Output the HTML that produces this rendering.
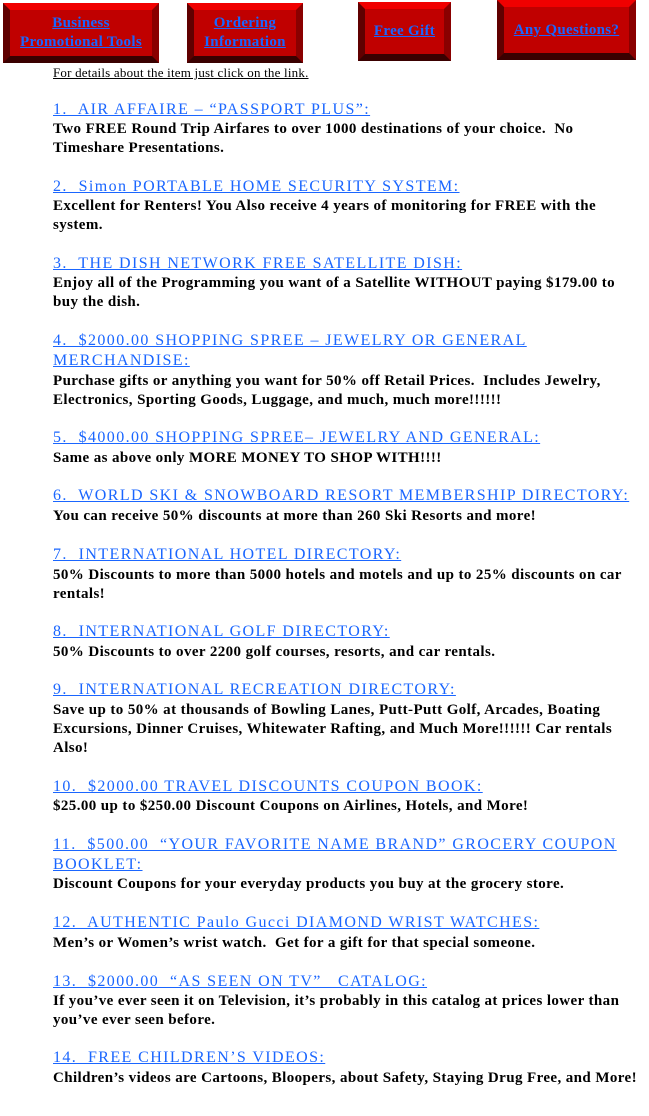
<!DOCTYPE html>
<html><head><meta charset="utf-8"><style>
body{margin:0;background:#fff;width:649px;height:1116px;position:relative;overflow:hidden;font-family:"Liberation Serif",serif}
.b{position:absolute;background:#c00000;border-style:solid;border-width:7px;border-color:#f00000 #8a0000 #3a0000 #600000;box-sizing:border-box;display:flex;align-items:center;justify-content:center;text-align:center}
.b a{color:#1a66ff;font-size:15px;font-weight:bold;text-decoration:underline;line-height:19px;letter-spacing:0.3px}
.l{position:absolute;left:53px;white-space:nowrap;line-height:18px}
.h{color:#1a66ff;font-size:16px;text-decoration:underline;letter-spacing:1.4px}
.t{color:#000;font-size:15px;font-weight:bold;letter-spacing:0.4px}
</style></head><body>
<div class="b" style="left:3px;top:3px;width:156px;height:60px"><a>Business<br>Promotional Tools</a></div>
<div class="b" style="left:187px;top:3px;width:116px;height:60px"><a>Ordering<br>Information</a></div>
<div class="b" style="left:358px;top:2px;width:93px;height:59px"><a>Free Gift</a></div>
<div class="b" style="left:497px;top:0px;width:139px;height:60px"><a>Any Questions?</a></div>
<div class="l" style="top:64px;font-size:13px;letter-spacing:0.2px;text-decoration:underline">For details about the item just click on the link.</div>

<div class="l h" style="top:101px">1.&nbsp; AIR AFFAIRE – “PASSPORT PLUS”:</div>
<div class="l t" style="top:120px">Two FREE Round Trip Airfares to over 1000 destinations of your choice.&nbsp; No</div>
<div class="l t" style="top:139px">Timeshare Presentations.</div>

<div class="l h" style="top:178px">2.&nbsp; Simon PORTABLE HOME SECURITY SYSTEM:</div>
<div class="l t" style="top:197px">Excellent for Renters! You Also receive 4 years of monitoring for FREE with the</div>
<div class="l t" style="top:216px">system.</div>

<div class="l h" style="top:255px">3.&nbsp; THE DISH NETWORK FREE SATELLITE DISH:</div>
<div class="l t" style="top:274px">Enjoy all of the Programming you want of a Satellite WITHOUT paying $179.00 to</div>
<div class="l t" style="top:293px">buy the dish.</div>

<div class="l h" style="top:332px">4.&nbsp; $2000.00 SHOPPING SPREE – JEWELRY OR GENERAL</div>
<div class="l h" style="top:352px">MERCHANDISE:</div>
<div class="l t" style="top:372px">Purchase gifts or anything you want for 50% off Retail Prices.&nbsp; Includes Jewelry,</div>
<div class="l t" style="top:391px">Electronics, Sporting Goods, Luggage, and much, much more!!!!!!</div>

<div class="l h" style="top:429px">5.&nbsp; $4000.00 SHOPPING SPREE– JEWELRY AND GENERAL:</div>
<div class="l t" style="top:449px">Same as above only MORE MONEY TO SHOP WITH!!!!</div>

<div class="l h" style="top:487px">6.&nbsp; WORLD SKI &amp; SNOWBOARD RESORT MEMBERSHIP DIRECTORY:</div>
<div class="l t" style="top:507px">You can receive 50% discounts at more than 260 Ski Resorts and more!</div>

<div class="l h" style="top:546px">7.&nbsp; INTERNATIONAL HOTEL DIRECTORY:</div>
<div class="l t" style="top:566px">50% Discounts to more than 5000 hotels and motels and up to 25% discounts on car</div>
<div class="l t" style="top:585px">rentals!</div>

<div class="l h" style="top:623px">8.&nbsp; INTERNATIONAL GOLF DIRECTORY:</div>
<div class="l t" style="top:643px">50% Discounts to over 2200 golf courses, resorts, and car rentals.</div>

<div class="l h" style="top:681px">9.&nbsp; INTERNATIONAL RECREATION DIRECTORY:</div>
<div class="l t" style="top:701px">Save up to 50% at thousands of Bowling Lanes, Putt-Putt Golf, Arcades, Boating</div>
<div class="l t" style="top:720px">Excursions, Dinner Cruises, Whitewater Rafting, and Much More!!!!!! Car rentals</div>
<div class="l t" style="top:739px">Also!</div>

<div class="l h" style="top:778px">10.&nbsp; $2000.00 TRAVEL DISCOUNTS COUPON BOOK:</div>
<div class="l t" style="top:797px">$25.00 up to $250.00 Discount Coupons on Airlines, Hotels, and More!</div>

<div class="l h" style="top:836px">11.&nbsp; $500.00&nbsp; “YOUR FAVORITE NAME BRAND” GROCERY COUPON</div>
<div class="l h" style="top:856px">BOOKLET:</div>
<div class="l t" style="top:875px">Discount Coupons for your everyday products you buy at the grocery store.</div>

<div class="l h" style="top:914px">12.&nbsp; AUTHENTIC Paulo Gucci DIAMOND WRIST WATCHES:</div>
<div class="l t" style="top:934px">Men’s or Women’s wrist watch.&nbsp; Get for a gift for that special someone.</div>

<div class="l h" style="top:973px">13.&nbsp; $2000.00&nbsp; “AS SEEN ON TV”&nbsp;&nbsp; CATALOG:</div>
<div class="l t" style="top:992px">If you’ve ever seen it on Television, it’s probably in this catalog at prices lower than</div>
<div class="l t" style="top:1011px">you’ve ever seen before.</div>

<div class="l h" style="top:1049px">14.&nbsp; FREE CHILDREN’S VIDEOS:</div>
<div class="l t" style="top:1069px">Children’s videos are Cartoons, Bloopers, about Safety, Staying Drug Free, and More!</div>
</body></html>
